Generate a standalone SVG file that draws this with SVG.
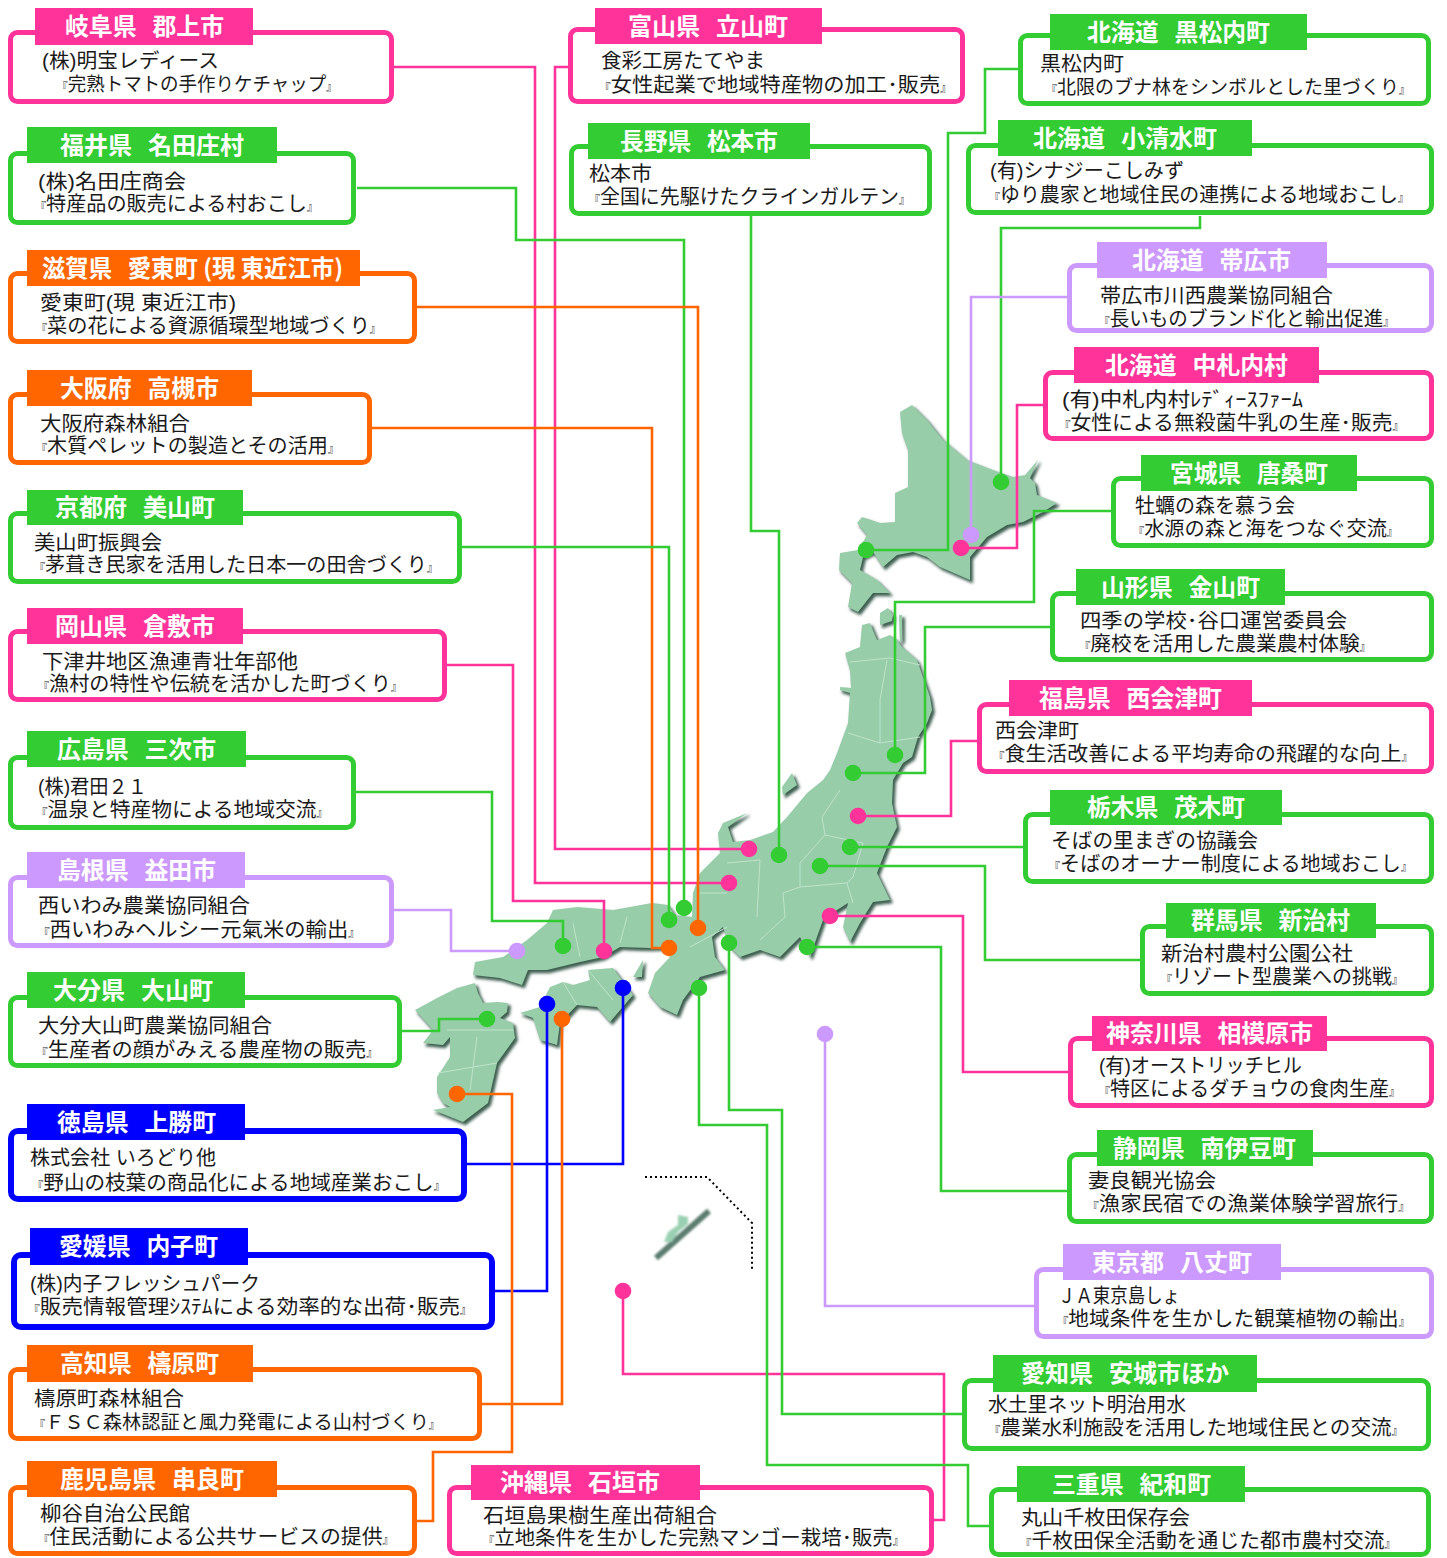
<svg xmlns="http://www.w3.org/2000/svg" xmlns:xlink="http://www.w3.org/1999/xlink" width="1447" height="1558" viewBox="0 0 1447 1558">
<style>
.b{font-family:"Liberation Sans","Noto Sans CJK JP",sans-serif;font-size:20px;fill:#1a1a1a}
.n{font-size:19px}
.t{font-family:"Noto Sans CJK JP","Noto Sans",sans-serif;font-size:24px;font-weight:700;fill:#fff}
.s{font-size:16px}
.q{font-size:11px}
.box{fill:#fff;stroke-width:5}
.pk .box{stroke:#ff3399}.pk .hd{fill:#ff3399}
.gr .box{stroke:#33cc33}.gr .hd{fill:#33cc33}
.or .box{stroke:#ff6600}.or .hd{fill:#ff6600}
.lv .box{stroke:#cc99ff}.lv .hd{fill:#cc99ff}
.bl .box{stroke:#0000ff;stroke-width:6}.bl .hd{fill:#0000ff}
.c{fill:none;stroke-width:2.6}
.cpk{stroke:#ff3399}.cgr{stroke:#33cc33}.cor{stroke:#ff6600}.clv{stroke:#cc99ff}.cbl{stroke:#0000ff}
.dpk{fill:#ff3399}.dgr{fill:#33cc33}.dor{fill:#ff6600}.dlv{fill:#cc99ff}.dbl{fill:#0000ff}
.pref{fill:none;stroke:#bfe3cc;stroke-width:1;stroke-linejoin:round}
</style>
<defs>
<filter id="blur2" filterUnits="userSpaceOnUse" x="380" y="380" width="700" height="780"><feGaussianBlur stdDeviation="1.5"/></filter>
<filter id="blur1" filterUnits="userSpaceOnUse" x="380" y="380" width="700" height="780"><feGaussianBlur stdDeviation="0.6"/></filter>
<filter id="soft" filterUnits="userSpaceOnUse" x="630" y="1190" width="100" height="80"><feGaussianBlur stdDeviation="1.3"/></filter>
<g id="landmass" stroke-linejoin="round">
<path d="M912 405L900 412L902 433L908 450L908 487L895 493L895 522L880 523L862 517L857 523L867 535L858 550L840 553L839 570L852 583L848 607L858 612L873 593L890 593L877 580L860 570L863 557L873 552L883 567L897 555L913 552L927 557L940 567L970 580L970 557L987 537L1007 525L1023 522L1043 512L1057 503L1037 495L1035 483L1030 478L1038 460L1025 475L1013 477L993 470L967 460L943 440L927 420Z"/>
<path d="M880 625L880 613L888 608L893 615L892 621Z"/>
<path d="M899 615L902 615L902 640L900 642Z"/>
<path d="M862 625L870 623L877 640L890 635L897 640L902 647L917 660L923 677L930 697L932 710L927 723L918 737L912 757L903 763L893 780L892 803L897 827L887 847L877 873L890 900L873 902L860 923L850 942L843 927L848 903L837 910L823 920L817 937L810 957L800 937L780 957L760 950L740 957L730 947L723 927L712 937L715 957L725 970L700 977L683 1000L677 1015L660 1007L648 993L655 973L670 957L667 947L650 948L620 947L603 957L580 962L547 970L528 970L522 985L500 978L473 975L475 962L503 957L527 940L547 923L553 910L577 907L613 910L652 903L668 905L675 915L692 917L693 893L700 873L720 853L718 833L723 823L747 813L728 827L733 842L750 840L773 832L787 817L807 793L823 780L830 770L837 753L848 723L850 693L840 690L840 687L851 688L850 670L845 653L860 647Z"/>
<path d="M520 1013L540 1007L550 987L563 982L573 985L590 980L588 970L613 968L633 995L610 1022L597 1007L577 1005L560 1023L557 1045L540 1040L533 1018Z"/>
<path d="M643 960L633 977L642 977Z"/>
<path d="M415 1010L437 998L457 988L475 983L478 993L483 1003L497 1002L508 1003L507 1012L500 1018L513 1023L515 1038L497 1063L488 1103L463 1122L433 1110L450 1107L443 1103L437 1093L437 1077L450 1057L450 1037L443 1045L423 1043L433 1030Z"/>
<path d="M792 773L782 787L783 795L797 785Z"/>
</g>
</defs>
<g id="map">
<use href="#landmass" xlink:href="#landmass" transform="translate(2.4,2.8)" fill="#3d5f50" stroke="#3d5f50" filter="url(#blur2)"/>
<use href="#landmass" xlink:href="#landmass" fill="#98cdaa" filter="url(#blur1)"/>
<g id="okinawa-island" filter="url(#soft)"><path d="M709 1211L656 1258" fill="none" stroke="#5b7d6f" stroke-width="6"/><path d="M678 1215L688 1217L688 1224L678 1232L672 1242L664 1242L668 1232L678 1225Z" fill="#9ad0b2"/></g>
<g id="prefecture-lines">
<path class="pref" d="M850 662L890 658L920 665M887 660L880 700L880 743M848 733L880 743L920 737M840 790L822 817L825 835L800 863L800 887L783 893L785 917L760 940M760 860L757 917M727 863L760 860M825 835L863 843L853 877L847 883L800 887M847 883L853 903M700 893L727 893M690 947L727 927M573 923L580 957M627 917L620 943M447 1030L513 1030M438 1073L497 1063M477 1037L470 1090M588 970L613 1000M563 982L577 1005"/>
</g>
</g>
<path id="okinawa-boundary" d="M645 1177H707L752 1223V1269" fill="none" stroke="#000" stroke-width="2" stroke-dasharray="2 3"/>
<g id="connectors">
<path class="c cpk" d="M394 67H535V883H729"/><path class="c cpk" d="M568 67H555V849H749"/>
<path class="c cgr" d="M357 188H516V240H684V908"/><path class="c cor" d="M417 307H698V928"/>
<path class="c cor" d="M372 428H652V948H669"/><path class="c cgr" d="M462 547H669V920"/>
<path class="c cpk" d="M447 665H513V901H604V951"/><path class="c cgr" d="M356 792H492V921H563V946"/>
<path class="c clv" d="M394 910H451V951H517"/><path class="c cgr" d="M402 1031H439V1019H487"/>
<path class="c cbl" d="M467 1164H623V988"/><path class="c cbl" d="M495 1291H547V1004"/>
<path class="c cor" d="M482 1404H562V1019"/><path class="c cor" d="M417 1521H433V1452H512V1094H457"/>
<path class="c cpk" d="M934 1520H944V1374H623V1291"/><path class="c cgr" d="M751 216V531H779V855"/>
<path class="c cgr" d="M1018 69H985V133H948V550H866"/><path class="c cgr" d="M1200 216V228H1001V482"/>
<path class="c clv" d="M1067 297H971V535"/><path class="c cpk" d="M1043 405H1017V548H961"/>
<path class="c cgr" d="M1111 511H1034V602H895V755"/><path class="c cgr" d="M1050 627H925V773H853"/>
<path class="c cpk" d="M977 741H951V816H858"/><path class="c cgr" d="M1023 847H850"/>
<path class="c cgr" d="M1140 960H985V866H820"/><path class="c cpk" d="M1068 1072H963V916H830"/>
<path class="c cgr" d="M1067 1191H941V947H807"/><path class="c clv" d="M1034 1306H825V1034"/>
<path class="c cgr" d="M962 1414H782V1110H729V943"/><path class="c cgr" d="M989 1526H968V1465H767V1125H699V988"/>
<g id="dots">
<circle class="dpk" cx="729" cy="883" r="8.3"/><circle class="dpk" cx="749" cy="849" r="8.3"/><circle class="dgr" cx="684" cy="908" r="8.3"/><circle class="dor" cx="698" cy="928" r="8.3"/><circle class="dor" cx="669" cy="948" r="8.3"/><circle class="dgr" cx="669" cy="920" r="8.3"/><circle class="dpk" cx="604" cy="951" r="8.3"/><circle class="dgr" cx="563" cy="946" r="8.3"/><circle class="dlv" cx="517" cy="951" r="8.3"/><circle class="dgr" cx="487" cy="1019" r="8.3"/><circle class="dbl" cx="623" cy="988" r="8.3"/><circle class="dbl" cx="547" cy="1004" r="8.3"/><circle class="dor" cx="562" cy="1019" r="8.3"/><circle class="dor" cx="457" cy="1094" r="8.3"/><circle class="dpk" cx="623" cy="1291" r="8.3"/><circle class="dgr" cx="779" cy="855" r="8.3"/><circle class="dgr" cx="866" cy="550" r="8.3"/><circle class="dgr" cx="1001" cy="482" r="8.3"/><circle class="dlv" cx="971" cy="535" r="8.3"/><circle class="dpk" cx="961" cy="548" r="8.3"/><circle class="dgr" cx="895" cy="755" r="8.3"/><circle class="dgr" cx="853" cy="773" r="8.3"/><circle class="dpk" cx="858" cy="816" r="8.3"/><circle class="dgr" cx="850" cy="847" r="8.3"/><circle class="dgr" cx="820" cy="866" r="8.3"/><circle class="dpk" cx="830" cy="916" r="8.3"/><circle class="dgr" cx="807" cy="947" r="8.3"/><circle class="dlv" cx="825" cy="1034" r="8.3"/><circle class="dgr" cx="729" cy="943" r="8.3"/><circle class="dgr" cx="699" cy="988" r="8.3"/>
</g>
</g>
<g id="gifu" class="pk"><rect class="box" x="10.500" y="32.500" width="381" height="69" rx="7"/><rect class="hd" x="35" y="8" width="218" height="37"/><text class="t" x="65" y="35" textLength="159" lengthAdjust="spacingAndGlyphs">岐阜県<tspan class="s">　</tspan>郡上市</text><text class="b" x="42" y="68" textLength="177" lengthAdjust="spacingAndGlyphs">(株)明宝レディース</text><text class="b n" x="57" y="91" textLength="280" lengthAdjust="spacingAndGlyphs"><tspan class="q">『</tspan>完熟トマトの手作りケチャップ<tspan class="q">』</tspan></text></g>
<g id="fukui" class="gr"><rect class="box" x="10.500" y="153.500" width="343" height="69" rx="7"/><rect class="hd" x="27" y="127" width="250" height="36"/><text class="t" x="60" y="154" textLength="184" lengthAdjust="spacingAndGlyphs">福井県<tspan class="s">　</tspan>名田庄村</text><text class="b" x="38" y="189" textLength="148" lengthAdjust="spacingAndGlyphs">(株)名田庄商会</text><text class="b" x="35" y="211" textLength="283" lengthAdjust="spacingAndGlyphs"><tspan class="q">『</tspan>特産品の販売による村おこし<tspan class="q">』</tspan></text></g>
<g id="shiga" class="or"><rect class="box" x="10.500" y="273.500" width="404" height="68" rx="7"/><rect class="hd" x="27" y="250" width="333" height="36"/><text class="t" x="42" y="277" textLength="301" lengthAdjust="spacingAndGlyphs">滋賀県<tspan class="s">　</tspan>愛東町 (現 東近江市)</text><text class="b" x="40" y="310" textLength="196" lengthAdjust="spacingAndGlyphs">愛東町(現 東近江市)</text><text class="b" x="36" y="333" textLength="345" lengthAdjust="spacingAndGlyphs"><tspan class="q">『</tspan>菜の花による資源循環型地域づくり<tspan class="q">』</tspan></text></g>
<g id="osaka" class="or"><rect class="box" x="10.500" y="394.500" width="359" height="68" rx="7"/><rect class="hd" x="27" y="370" width="225" height="36"/><text class="t" x="60" y="397" textLength="159" lengthAdjust="spacingAndGlyphs">大阪府<tspan class="s">　</tspan>高槻市</text><text class="b" x="40" y="431" textLength="150" lengthAdjust="spacingAndGlyphs">大阪府森林組合</text><text class="b" x="36" y="453" textLength="303" lengthAdjust="spacingAndGlyphs"><tspan class="q">『</tspan>木質ペレットの製造とその活用<tspan class="q">』</tspan></text></g>
<g id="kyoto" class="gr"><rect class="box" x="10.500" y="513.500" width="449" height="68" rx="7"/><rect class="hd" x="27" y="490" width="216" height="35"/><text class="t" x="55" y="516" textLength="160" lengthAdjust="spacingAndGlyphs">京都府<tspan class="s">　</tspan>美山町</text><text class="b" x="34" y="550" textLength="128" lengthAdjust="spacingAndGlyphs">美山町振興会</text><text class="b" x="34" y="572" textLength="404" lengthAdjust="spacingAndGlyphs"><tspan class="q">『</tspan>茅葺き民家を活用した日本一の田舎づくり<tspan class="q">』</tspan></text></g>
<g id="okayama" class="pk"><rect class="box" x="10.500" y="631.500" width="434" height="68" rx="7"/><rect class="hd" x="27" y="608" width="216" height="36"/><text class="t" x="55" y="635" textLength="160" lengthAdjust="spacingAndGlyphs">岡山県<tspan class="s">　</tspan>倉敷市</text><text class="b" x="42" y="669" textLength="256" lengthAdjust="spacingAndGlyphs">下津井地区漁連青壮年部他</text><text class="b" x="38" y="691" textLength="364" lengthAdjust="spacingAndGlyphs"><tspan class="q">『</tspan>漁村の特性や伝統を活かした町づくり<tspan class="q">』</tspan></text></g>
<g id="hiroshima" class="gr"><rect class="box" x="10.500" y="757.500" width="343" height="70" rx="7"/><rect class="hd" x="27" y="731" width="219" height="36"/><text class="t" x="57" y="758" textLength="159" lengthAdjust="spacingAndGlyphs">広島県<tspan class="s">　</tspan>三次市</text><text class="b" x="38" y="794" textLength="109" lengthAdjust="spacingAndGlyphs">(株)君田２１</text><text class="b" x="36" y="817" textLength="292" lengthAdjust="spacingAndGlyphs"><tspan class="q">『</tspan>温泉と特産物による地域交流<tspan class="q">』</tspan></text></g>
<g id="shimane" class="lv"><rect class="box" x="10.500" y="877.500" width="381" height="68" rx="7"/><rect class="hd" x="27" y="852" width="218" height="36"/><text class="t" x="57" y="879" textLength="159" lengthAdjust="spacingAndGlyphs">島根県<tspan class="s">　</tspan>益田市</text><text class="b" x="38" y="913" textLength="212" lengthAdjust="spacingAndGlyphs">西いわみ農業協同組合</text><text class="b" x="38" y="937" textLength="322" lengthAdjust="spacingAndGlyphs"><tspan class="q">『</tspan>西いわみヘルシー元氣米の輸出<tspan class="q">』</tspan></text></g>
<g id="oita" class="gr"><rect class="box" x="10.500" y="997.500" width="389" height="68" rx="7"/><rect class="hd" x="27" y="972" width="218" height="36"/><text class="t" x="53" y="999" textLength="160" lengthAdjust="spacingAndGlyphs">大分県<tspan class="s">　</tspan>大山町</text><text class="b" x="38" y="1033" textLength="234" lengthAdjust="spacingAndGlyphs">大分大山町農業協同組合</text><text class="b" x="36" y="1057" textLength="342" lengthAdjust="spacingAndGlyphs"><tspan class="q">『</tspan>生産者の顔がみえる農産物の販売<tspan class="q">』</tspan></text></g>
<g id="tokushima" class="bl"><rect class="box" x="11" y="1131" width="453" height="68" rx="7"/><rect class="hd" x="27" y="1104" width="218" height="36"/><text class="t" x="57" y="1131" textLength="159" lengthAdjust="spacingAndGlyphs">徳島県<tspan class="s">　</tspan>上勝町</text><text class="b" x="30" y="1165" textLength="186" lengthAdjust="spacingAndGlyphs">株式会社 いろどり他</text><text class="b" x="32" y="1190" textLength="413" lengthAdjust="spacingAndGlyphs"><tspan class="q">『</tspan>野山の枝葉の商品化による地域産業おこし<tspan class="q">』</tspan></text></g>
<g id="ehime" class="bl"><rect class="box" x="14" y="1255" width="478" height="72" rx="7"/><rect class="hd" x="30" y="1228" width="218" height="37"/><text class="t" x="59" y="1255" textLength="159" lengthAdjust="spacingAndGlyphs">愛媛県<tspan class="s">　</tspan>内子町</text><text class="b" x="30" y="1291" textLength="230" lengthAdjust="spacingAndGlyphs">(株)内子フレッシュパーク</text><text class="b" x="28" y="1314" textLength="444" lengthAdjust="spacingAndGlyphs"><tspan class="q">『</tspan>販売情報管理ｼｽﾃﾑによる効率的な出荷･販売<tspan class="q">』</tspan></text></g>
<g id="kochi" class="or"><rect class="box" x="10.500" y="1369.500" width="469" height="69" rx="7"/><rect class="hd" x="27" y="1345" width="226" height="37"/><text class="t" x="60" y="1372" textLength="159" lengthAdjust="spacingAndGlyphs">高知県<tspan class="s">　</tspan>檮原町</text><text class="b" x="34" y="1406" textLength="150" lengthAdjust="spacingAndGlyphs">檮原町森林組合</text><text class="b n" x="34" y="1429" textLength="406" lengthAdjust="spacingAndGlyphs"><tspan class="q">『</tspan>ＦＳＣ森林認証と風力発電による山村づくり<tspan class="q">』</tspan></text></g>
<g id="kagoshima" class="or"><rect class="box" x="10.500" y="1487.500" width="404" height="66" rx="7"/><rect class="hd" x="27" y="1461" width="250" height="36"/><text class="t" x="60" y="1488" textLength="184" lengthAdjust="spacingAndGlyphs">鹿児島県<tspan class="s">　</tspan>串良町</text><text class="b" x="40" y="1521" textLength="150" lengthAdjust="spacingAndGlyphs">柳谷自治公民館</text><text class="b" x="38" y="1544" textLength="356" lengthAdjust="spacingAndGlyphs"><tspan class="q">『</tspan>住民活動による公共サービスの提供<tspan class="q">』</tspan></text></g>
<g id="okinawa" class="pk"><rect class="box" x="449.500" y="1487.500" width="482" height="66" rx="7"/><rect class="hd" x="471" y="1465" width="229" height="35"/><text class="t" x="500" y="1491" textLength="160" lengthAdjust="spacingAndGlyphs">沖縄県<tspan class="s">　</tspan>石垣市</text><text class="b" x="483" y="1523" textLength="234" lengthAdjust="spacingAndGlyphs">石垣島果樹生産出荷組合</text><text class="b" x="483" y="1545" textLength="421" lengthAdjust="spacingAndGlyphs"><tspan class="q">『</tspan>立地条件を生かした完熟マンゴー栽培･販売<tspan class="q">』</tspan></text></g>
<g id="toyama" class="pk"><rect class="box" x="570.500" y="29.500" width="392" height="72" rx="7"/><rect class="hd" x="595" y="8" width="227" height="36"/><text class="t" x="628" y="35" textLength="160" lengthAdjust="spacingAndGlyphs">富山県<tspan class="s">　</tspan>立山町</text><text class="b" x="601" y="68" textLength="164" lengthAdjust="spacingAndGlyphs">食彩工房たてやま</text><text class="b" x="599" y="92" textLength="353" lengthAdjust="spacingAndGlyphs"><tspan class="q">『</tspan>女性起業で地域特産物の加工･販売<tspan class="q">』</tspan></text></g>
<g id="nagano" class="gr"><rect class="box" x="571.500" y="146.500" width="358" height="67" rx="7"/><rect class="hd" x="588" y="123" width="222" height="36"/><text class="t" x="620" y="150" textLength="158" lengthAdjust="spacingAndGlyphs">長野県<tspan class="s">　</tspan>松本市</text><text class="b" x="589" y="181" textLength="63" lengthAdjust="spacingAndGlyphs">松本市</text><text class="b" x="589" y="204" textLength="321" lengthAdjust="spacingAndGlyphs"><tspan class="q">『</tspan>全国に先駆けたクラインガルテン<tspan class="q">』</tspan></text></g>
<g id="kuromatsunai" class="gr"><rect class="box" x="1020.500" y="35.500" width="408" height="68" rx="7"/><rect class="hd" x="1050" y="14" width="257" height="36"/><text class="t" x="1087" y="41" textLength="183" lengthAdjust="spacingAndGlyphs">北海道<tspan class="s">　</tspan>黒松内町</text><text class="b" x="1040" y="71" textLength="84" lengthAdjust="spacingAndGlyphs">黒松内町</text><text class="b n" x="1046" y="94" textLength="364" lengthAdjust="spacingAndGlyphs"><tspan class="q">『</tspan>北限のブナ林をシンボルとした里づくり<tspan class="q">』</tspan></text></g>
<g id="koshimizu" class="gr"><rect class="box" x="968.500" y="145.500" width="463" height="67" rx="7"/><rect class="hd" x="998" y="120" width="254" height="36"/><text class="t" x="1033" y="147" textLength="184" lengthAdjust="spacingAndGlyphs">北海道<tspan class="s">　</tspan>小清水町</text><text class="b" x="990" y="178" textLength="194" lengthAdjust="spacingAndGlyphs">(有)シナジーこしみず</text><text class="b" x="989" y="202" textLength="420" lengthAdjust="spacingAndGlyphs"><tspan class="q">『</tspan>ゆり農家と地域住民の連携による地域おこし<tspan class="q">』</tspan></text></g>
<g id="obihiro" class="lv"><rect class="box" x="1069.500" y="265.500" width="362" height="65" rx="7"/><rect class="hd" x="1097" y="242" width="230" height="36"/><text class="t" x="1132" y="269" textLength="159" lengthAdjust="spacingAndGlyphs">北海道<tspan class="s">　</tspan>帯広市</text><text class="b" x="1100" y="303" textLength="233" lengthAdjust="spacingAndGlyphs">帯広市川西農業協同組合</text><text class="b" x="1099" y="326" textLength="295" lengthAdjust="spacingAndGlyphs"><tspan class="q">『</tspan>長いものブランド化と輸出促進<tspan class="q">』</tspan></text></g>
<g id="nakasatsunai" class="pk"><rect class="box" x="1045.500" y="372.500" width="386" height="66" rx="7"/><rect class="hd" x="1074" y="347" width="245" height="36"/><text class="t" x="1105" y="374" textLength="183" lengthAdjust="spacingAndGlyphs">北海道<tspan class="s">　</tspan>中札内村</text><text class="b" x="1062" y="407" textLength="241" lengthAdjust="spacingAndGlyphs">(有)中札内村ﾚﾃﾞｨｰｽﾌｧｰﾑ</text><text class="b" x="1059" y="430" textLength="345" lengthAdjust="spacingAndGlyphs"><tspan class="q">『</tspan>女性による無殺菌牛乳の生産･販売<tspan class="q">』</tspan></text></g>
<g id="karakuwa" class="gr"><rect class="box" x="1113.500" y="478.500" width="318" height="67" rx="7"/><rect class="hd" x="1141" y="455" width="216" height="36"/><text class="t" x="1170" y="482" textLength="158" lengthAdjust="spacingAndGlyphs">宮城県<tspan class="s">　</tspan>唐桑町</text><text class="b" x="1135" y="513" textLength="160" lengthAdjust="spacingAndGlyphs">牡蠣の森を慕う会</text><text class="b" x="1133" y="536" textLength="265" lengthAdjust="spacingAndGlyphs"><tspan class="q">『</tspan>水源の森と海をつなぐ交流<tspan class="q">』</tspan></text></g>
<g id="kaneyama" class="gr"><rect class="box" x="1052.500" y="593.500" width="379" height="66" rx="7"/><rect class="hd" x="1076" y="569" width="209" height="36"/><text class="t" x="1101" y="596" textLength="159" lengthAdjust="spacingAndGlyphs">山形県<tspan class="s">　</tspan>金山町</text><text class="b" x="1080" y="628" textLength="267" lengthAdjust="spacingAndGlyphs">四季の学校･谷口運営委員会</text><text class="b" x="1079" y="651" textLength="292" lengthAdjust="spacingAndGlyphs"><tspan class="q">『</tspan>廃校を活用した農業農村体験<tspan class="q">』</tspan></text></g>
<g id="nishiaizu" class="pk"><rect class="box" x="979.500" y="704.500" width="452" height="67" rx="7"/><rect class="hd" x="1009" y="680" width="243" height="36"/><text class="t" x="1039" y="707" textLength="183" lengthAdjust="spacingAndGlyphs">福島県<tspan class="s">　</tspan>西会津町</text><text class="b" x="995" y="738" textLength="84" lengthAdjust="spacingAndGlyphs">西会津町</text><text class="b" x="993" y="761" textLength="420" lengthAdjust="spacingAndGlyphs"><tspan class="q">『</tspan>食生活改善による平均寿命の飛躍的な向上<tspan class="q">』</tspan></text></g>
<g id="motegi" class="gr"><rect class="box" x="1025.500" y="814.500" width="406" height="67" rx="7"/><rect class="hd" x="1050" y="790" width="232" height="35"/><text class="t" x="1087" y="816" textLength="158" lengthAdjust="spacingAndGlyphs">栃木県<tspan class="s">　</tspan>茂木町</text><text class="b" x="1051" y="848" textLength="207" lengthAdjust="spacingAndGlyphs">そばの里まぎの協議会</text><text class="b" x="1049" y="871" textLength="363" lengthAdjust="spacingAndGlyphs"><tspan class="q">『</tspan>そばのオーナー制度による地域おこし<tspan class="q">』</tspan></text></g>
<g id="niiharu" class="gr"><rect class="box" x="1142.500" y="926.500" width="289" height="67" rx="7"/><rect class="hd" x="1166" y="903" width="210" height="35"/><text class="t" x="1191" y="929" textLength="159" lengthAdjust="spacingAndGlyphs">群馬県<tspan class="s">　</tspan>新治村</text><text class="b" x="1161" y="961" textLength="192" lengthAdjust="spacingAndGlyphs">新治村農村公園公社</text><text class="b" x="1161" y="984" textLength="242" lengthAdjust="spacingAndGlyphs"><tspan class="q">『</tspan>リゾート型農業への挑戦<tspan class="q">』</tspan></text></g>
<g id="sagamihara" class="pk"><rect class="box" x="1070.500" y="1038.500" width="361" height="67" rx="7"/><rect class="hd" x="1092" y="1016" width="235" height="35"/><text class="t" x="1106" y="1042" textLength="207" lengthAdjust="spacingAndGlyphs">神奈川県<tspan class="s">　</tspan>相模原市</text><text class="b" x="1099" y="1073" textLength="203" lengthAdjust="spacingAndGlyphs">(有)オーストリッチヒル</text><text class="b" x="1099" y="1096" textLength="301" lengthAdjust="spacingAndGlyphs"><tspan class="q">『</tspan>特区によるダチョウの食肉生産<tspan class="q">』</tspan></text></g>
<g id="minamiizu" class="gr"><rect class="box" x="1069.500" y="1154.500" width="362" height="67" rx="7"/><rect class="hd" x="1097" y="1130" width="216" height="36"/><text class="t" x="1113" y="1157" textLength="183" lengthAdjust="spacingAndGlyphs">静岡県<tspan class="s">　</tspan>南伊豆町</text><text class="b" x="1088" y="1188" textLength="128" lengthAdjust="spacingAndGlyphs">妻良観光協会</text><text class="b" x="1087" y="1211" textLength="323" lengthAdjust="spacingAndGlyphs"><tspan class="q">『</tspan>漁家民宿での漁業体験学習旅行<tspan class="q">』</tspan></text></g>
<g id="hachijo" class="lv"><rect class="box" x="1036.500" y="1269.500" width="395" height="67" rx="7"/><rect class="hd" x="1063" y="1244" width="218" height="36"/><text class="t" x="1092" y="1271" textLength="160" lengthAdjust="spacingAndGlyphs">東京都<tspan class="s">　</tspan>八丈町</text><text class="b" x="1058" y="1303" textLength="122" lengthAdjust="spacingAndGlyphs">ＪＡ東京島しょ</text><text class="b" x="1057" y="1326" textLength="353" lengthAdjust="spacingAndGlyphs"><tspan class="q">『</tspan>地域条件を生かした観葉植物の輸出<tspan class="q">』</tspan></text></g>
<g id="anjo" class="gr"><rect class="box" x="964.500" y="1380.500" width="464" height="68" rx="7"/><rect class="hd" x="993" y="1355" width="264" height="37"/><text class="t" x="1021" y="1382" textLength="208" lengthAdjust="spacingAndGlyphs">愛知県<tspan class="s">　</tspan>安城市ほか</text><text class="b" x="988" y="1412" textLength="198" lengthAdjust="spacingAndGlyphs">水土里ネット明治用水</text><text class="b" x="989" y="1435" textLength="414" lengthAdjust="spacingAndGlyphs"><tspan class="q">『</tspan>農業水利施設を活用した地域住民との交流<tspan class="q">』</tspan></text></g>
<g id="kiwa" class="gr"><rect class="box" x="991.500" y="1489.500" width="437" height="65" rx="7"/><rect class="hd" x="1017" y="1466" width="228" height="36"/><text class="t" x="1052" y="1493" textLength="159" lengthAdjust="spacingAndGlyphs">三重県<tspan class="s">　</tspan>紀和町</text><text class="b" x="1021" y="1525" textLength="169" lengthAdjust="spacingAndGlyphs">丸山千枚田保存会</text><text class="b" x="1020" y="1548" textLength="376" lengthAdjust="spacingAndGlyphs"><tspan class="q">『</tspan>千枚田保全活動を通じた都市農村交流<tspan class="q">』</tspan></text></g>
</svg>
